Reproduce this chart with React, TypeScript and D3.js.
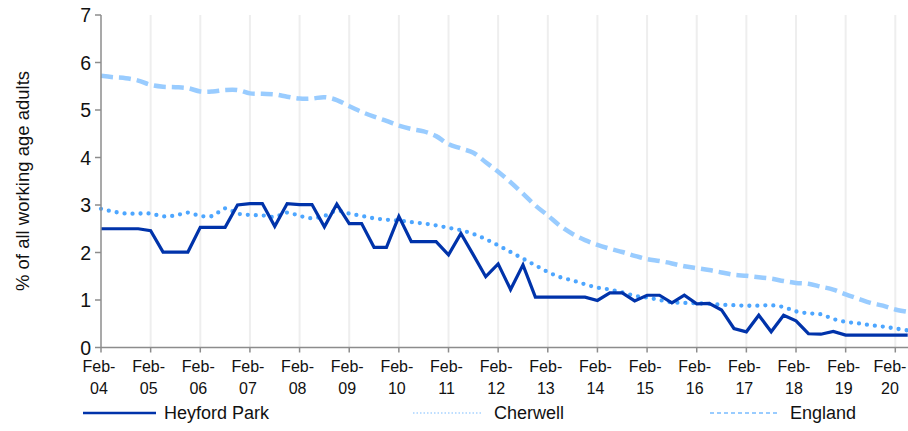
import React from "react";
import * as d3 from "d3";

const yearLabels = ["04","05","06","07","08","09","10","11","12","13","14","15","16","17","18","19","20"];

// Quarterly values, Feb-04 .. May-20
const heyfordPark = [
  2.5, 2.5, 2.5, 2.5, 2.46, 2.01, 2.01, 2.01,
  2.53, 2.53, 2.53, 3.0, 3.03, 3.03, 2.55, 3.03,
  3.01, 3.01, 2.54, 3.02, 2.61, 2.61, 2.11, 2.11,
  2.76, 2.23, 2.23, 2.23, 1.95, 2.4, 1.95, 1.49,
  1.76, 1.22, 1.74, 1.06, 1.06, 1.06, 1.06, 1.06,
  0.99, 1.15, 1.15, 0.98, 1.1, 1.1, 0.94, 1.1,
  0.92, 0.93, 0.79, 0.4, 0.33, 0.68, 0.33, 0.68,
  0.56, 0.29, 0.28, 0.34, 0.26, 0.26, 0.26, 0.26,
  0.26, 0.26
];

const cherwell = [
  2.92, 2.86, 2.82, 2.82, 2.82, 2.76, 2.78, 2.84,
  2.77, 2.77, 2.93, 2.82, 2.79, 2.78, 2.75, 2.84,
  2.77, 2.72, 2.77, 2.88, 2.82, 2.77, 2.72, 2.69,
  2.67, 2.64, 2.61, 2.57, 2.52, 2.47, 2.39, 2.28,
  2.15, 2.01, 1.87, 1.73, 1.59, 1.48, 1.41, 1.33,
  1.26, 1.22, 1.16, 1.09, 1.05, 1.0, 0.95, 0.94,
  0.93, 0.92, 0.9, 0.89, 0.88, 0.88, 0.89, 0.85,
  0.76, 0.72, 0.7, 0.6, 0.54, 0.51, 0.47, 0.44,
  0.4, 0.36
];

const england = [
  5.72, 5.69, 5.67, 5.62, 5.53, 5.49, 5.48, 5.46,
  5.39, 5.39, 5.42, 5.42, 5.35, 5.34, 5.33, 5.28,
  5.24, 5.24, 5.27, 5.21, 5.08, 4.96, 4.86, 4.77,
  4.67, 4.6, 4.55, 4.45, 4.28, 4.19, 4.1, 3.9,
  3.7, 3.48, 3.24, 2.99, 2.78, 2.56, 2.39, 2.26,
  2.16, 2.08, 2.01, 1.93, 1.86, 1.82, 1.77, 1.71,
  1.67, 1.63, 1.58, 1.53, 1.51, 1.48, 1.45, 1.4,
  1.36, 1.34, 1.28, 1.22, 1.12, 1.03, 0.94, 0.88,
  0.8, 0.75
];

const yTicks = [0, 1, 2, 3, 4, 5, 6, 7];
const seriesNames = ["Heyford Park", "Cherwell", "England"];

const W = 908;
const H = 431;
const FONT = "'Liberation Sans', Arial, sans-serif";

export default function App() {
  const x = d3.scaleLinear().domain([0, 64]).range([101, 895.3]);
  const y = d3.scaleLinear().domain([0, 7]).range([347.5, 15]);

  const straight = d3.line<number>().x((_, i) => x(i)).y((d) => y(d));
  const smooth = d3
    .line<number>()
    .x((_, i) => x(i))
    .y((d) => y(d))
    .curve(d3.curveCatmullRom.alpha(0.5));

  const yearIdx = yearLabels.map((_, k) => k * 4);

  return (
    <svg
      width={W}
      height={H}
      style={{ position: "absolute", left: 0, top: 0, background: "#fff" }}
      fontFamily={FONT}
    >
      {/* vertical gridlines */}
      {yearIdx.slice(1).map((i) => (
        <line key={"g" + i} x1={x(i)} x2={x(i)} y1={y(7)} y2={y(0)} stroke="#eeeeee" strokeWidth={2} />
      ))}

      {/* series */}
      <path d={smooth(england) || ""} fill="none" stroke="#99ccff" strokeWidth={4.5} strokeDasharray="12 6" />
      <path
        d={smooth(cherwell) || ""}
        fill="none"
        stroke="#4da6ff"
        strokeWidth={4.3}
        strokeDasharray="0 8"
        strokeLinecap="round"
      />
      <path d={straight(heyfordPark) || ""} fill="none" stroke="#0033aa" strokeWidth={3.2} strokeLinejoin="miter" />

      {/* axes */}
      <line x1={101} x2={101} y1={y(7)} y2={y(0)} stroke="#8c8c8c" strokeWidth={1.5} />
      <line x1={101} x2={908} y1={y(0)} y2={y(0)} stroke="#8c8c8c" strokeWidth={1.5} />
      {yTicks.map((t) => (
        <g key={"yt" + t}>
          <line x1={95} x2={101} y1={y(t)} y2={y(t)} stroke="#8c8c8c" strokeWidth={1.5} />
          <text x={91} y={y(t)} dy="0.36em" textAnchor="end" fontSize={19.5} fill="#111">
            {t}
          </text>
        </g>
      ))}
      {yearIdx.map((i, k) => {
        const cx = Math.min(x(i) - 2, 890);
        return (
          <g key={"xt" + i}>
            <line x1={x(i)} x2={x(i)} y1={y(0)} y2={y(0) + 5} stroke="#8c8c8c" strokeWidth={1.5} />
            <text x={cx} y={372} textAnchor="middle" fontSize={16} fill="#111">
              Feb-
            </text>
            <text x={cx} y={394} textAnchor="middle" fontSize={16} fill="#111">
              {yearLabels[k]}
            </text>
          </g>
        );
      })}

      {/* y title */}
      <text
        transform={`translate(29, 181) rotate(-90)`}
        textAnchor="middle"
        fontSize={18.5}
        fill="#111"
      >
        % of all working age adults
      </text>

      {/* legend */}
      <line x1={83} x2={156} y1={413} y2={413} stroke="#0033aa" strokeWidth={2.5} />
      <text x={164} y={413} dy="0.36em" fontSize={18} fill="#111">{seriesNames[0]}</text>
      <line x1={413} x2={483} y1={413} y2={413} stroke="#a8d3ff" strokeWidth={1.5} strokeDasharray="1.5 2" />
      <text x={494} y={413} dy="0.36em" fontSize={18} fill="#111">{seriesNames[1]}</text>
      <line x1={710} x2={780} y1={413} y2={413} stroke="#99ccff" strokeWidth={2} strokeDasharray="4 3" />
      <text x={790} y={413} dy="0.36em" fontSize={18} fill="#111">{seriesNames[2]}</text>
    </svg>
  );
}
